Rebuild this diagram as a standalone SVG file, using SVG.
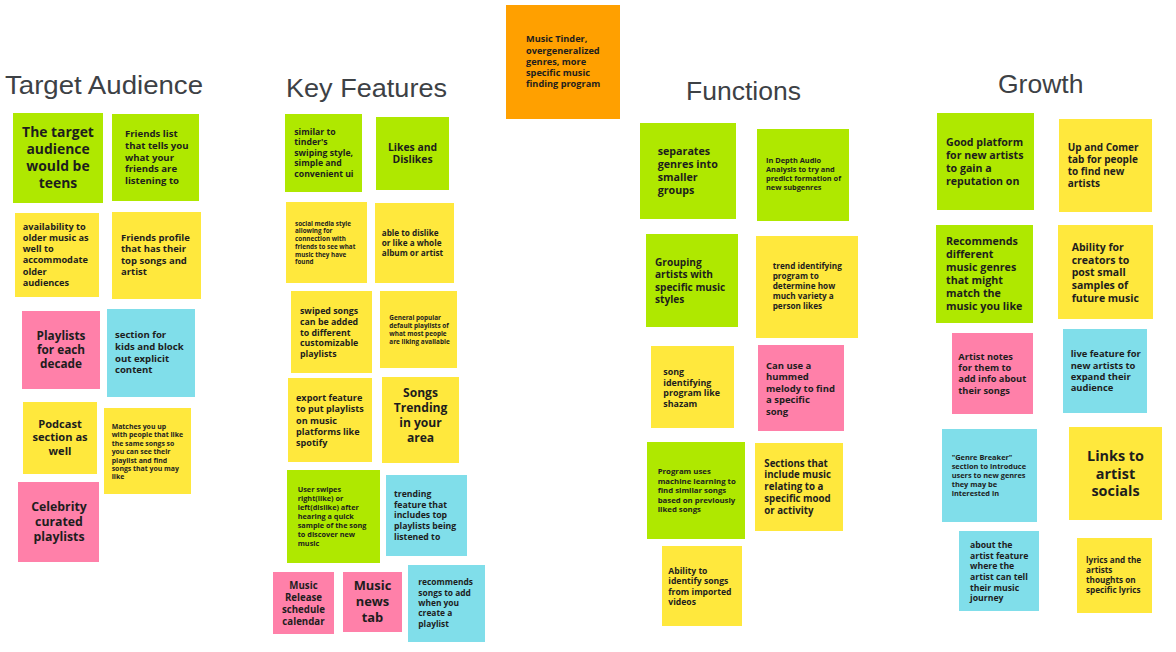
<svg xmlns="http://www.w3.org/2000/svg" width="1176" height="652" viewBox="0 0 1176 652">
<style>
.bg{fill:#ffffff}
.h{font-family:"Liberation Sans",Arial,sans-serif;font-size:26.5px;fill:#3d4145}
.n{font-family:"Open Sans","Noto Sans",sans-serif;font-weight:700;fill:#1d1d1d}
.m{text-anchor:middle}
.gr{fill:#afe800}
.ye{fill:#ffe83d}
.pk{fill:#ff80a9}
.cy{fill:#80deea}
.or{fill:#ffa000}
</style>
<rect class="bg" x="0" y="0" width="1176" height="652"/>

<g id="headings">
<text class="h" x="5" y="93.5" textLength="198" lengthAdjust="spacingAndGlyphs">Target Audience</text>
<text class="h" x="286" y="96.7" textLength="161" lengthAdjust="spacingAndGlyphs">Key Features</text>
<text class="h" x="686" y="100">Functions</text>
<text class="h" x="998" y="93.3">Growth</text>
</g>

<g id="connectors"/>

<g id="music-tinder">
<rect class="or" x="506" y="5" width="114" height="114"/>
<text class="n" font-size="9.2" y="42.4"><tspan x="526">Music Tinder,</tspan><tspan x="526" dy="11.2">overgeneralized</tspan><tspan x="526" dy="11.2">genres, more</tspan><tspan x="526" dy="11.2">specific music</tspan><tspan x="526" dy="11.2">finding program</tspan></text>
</g>

<!-- Target Audience -->
<g id="ta-teens">
<rect class="gr" x="13" y="113" width="90" height="90"/>
<text class="n m" font-size="13.9" y="137.2"><tspan x="58">The target</tspan><tspan x="58" dy="16.9">audience</tspan><tspan x="58" dy="16.9">would be</tspan><tspan x="58" dy="16.9">teens</tspan></text>
</g>
<g id="ta-friends-list">
<rect class="gr" x="112" y="114" width="87" height="87"/>
<text class="n" font-size="9.6" y="137.2"><tspan x="125">Friends list</tspan><tspan x="125" dy="11.7">that tells you</tspan><tspan x="125" dy="11.7">what your</tspan><tspan x="125" dy="11.7">friends are</tspan><tspan x="125" dy="11.7">listening to</tspan></text>
</g>
<g id="ta-older-music">
<rect class="ye" x="15" y="213" width="84" height="84"/>
<text class="n" font-size="9.2" y="229.8"><tspan x="22.7">availability to</tspan><tspan x="22.7" dy="11.2">older music as</tspan><tspan x="22.7" dy="11.2">well to</tspan><tspan x="22.7" dy="11.2">accommodate</tspan><tspan x="22.7" dy="11.2">older</tspan><tspan x="22.7" dy="11.2">audiences</tspan></text>
</g>
<g id="ta-friends-profile">
<rect class="ye" x="112" y="212" width="89" height="87"/>
<text class="n" font-size="9.5" y="240.9"><tspan x="121">Friends profile</tspan><tspan x="121" dy="11.5">that has their</tspan><tspan x="121" dy="11.5">top songs and</tspan><tspan x="121" dy="11.5">artist</tspan></text>
</g>
<g id="ta-decade">
<rect class="pk" x="22" y="311" width="78" height="78"/>
<text class="n m" font-size="11.8" y="339.6"><tspan x="61">Playlists</tspan><tspan x="61" dy="14.4">for each</tspan><tspan x="61" dy="14.4">decade</tspan></text>
</g>
<g id="ta-kids">
<rect class="cy" x="107" y="309" width="88" height="88"/>
<text class="n" font-size="9.6" y="338.2"><tspan x="115">section for</tspan><tspan x="115" dy="11.7">kids and block</tspan><tspan x="115" dy="11.7">out explicit</tspan><tspan x="115" dy="11.7">content</tspan></text>
</g>
<g id="ta-podcast">
<rect class="ye" x="23" y="402" width="74" height="72"/>
<text class="n m" font-size="11.1" y="427.6"><tspan x="60">Podcast</tspan><tspan x="60" dy="13.5">section as</tspan><tspan x="60" dy="13.5">well</tspan></text>
</g>
<g id="ta-matches">
<rect class="ye" x="104" y="408" width="87" height="86"/>
<text class="n" font-size="6.9" y="429"><tspan x="111.7">Matches you up</tspan><tspan x="111.7" dy="8.4">with people that like</tspan><tspan x="111.7" dy="8.4">the same songs so</tspan><tspan x="111.7" dy="8.4">you can see their</tspan><tspan x="111.7" dy="8.4">playlist and find</tspan><tspan x="111.7" dy="8.4">songs that you may</tspan><tspan x="111.7" dy="8.4">like</tspan></text>
</g>
<g id="ta-celebrity">
<rect class="pk" x="18" y="482" width="81" height="80"/>
<text class="n m" font-size="12.3" y="510.7"><tspan x="59">Celebrity</tspan><tspan x="59" dy="15">curated</tspan><tspan x="59" dy="15">playlists</tspan></text>
</g>

<!-- Key Features -->
<g id="kf-tinder-style">
<rect class="gr" x="285" y="114" width="77" height="78"/>
<text class="n" font-size="8.7" y="134.5"><tspan x="294.3">similar to</tspan><tspan x="294.3" dy="10.65">tinder's</tspan><tspan x="294.3" dy="10.65">swiping style,</tspan><tspan x="294.3" dy="10.65">simple and</tspan><tspan x="294.3" dy="10.65">convenient ui</tspan></text>
</g>
<g id="kf-likes">
<rect class="gr" x="376" y="117" width="73" height="73"/>
<text class="n m" font-size="10.4" y="150.7"><tspan x="412.5">Likes and</tspan><tspan x="412.5" dy="12.7">Dislikes</tspan></text>
</g>
<g id="kf-social">
<rect class="ye" x="286" y="202" width="81" height="81"/>
<text class="n" font-size="6.3" y="225.5"><tspan x="295">social media style</tspan><tspan x="295" dy="7.75">allowing for</tspan><tspan x="295" dy="7.75">connection with</tspan><tspan x="295" dy="7.75">friends to see what</tspan><tspan x="295" dy="7.75">music they have</tspan><tspan x="295" dy="7.75">found</tspan></text>
</g>
<g id="kf-album">
<rect class="ye" x="375" y="203" width="79" height="80"/>
<text class="n" font-size="8.2" y="236"><tspan x="381.7">able to dislike</tspan><tspan x="381.7" dy="10">or like a whole</tspan><tspan x="381.7" dy="10">album or artist</tspan></text>
</g>
<g id="kf-swiped">
<rect class="ye" x="291" y="291" width="81" height="82"/>
<text class="n" font-size="8.8" y="314"><tspan x="300">swiped songs</tspan><tspan x="300" dy="10.75">can be added</tspan><tspan x="300" dy="10.75">to different</tspan><tspan x="300" dy="10.75">customizable</tspan><tspan x="300" dy="10.75">playlists</tspan></text>
</g>
<g id="kf-general">
<rect class="ye" x="380" y="291" width="77" height="77"/>
<text class="n" font-size="6.4" y="320.4"><tspan x="389.3">General popular</tspan><tspan x="389.3" dy="7.8">default playlists of</tspan><tspan x="389.3" dy="7.8">what most people</tspan><tspan x="389.3" dy="7.8">are liking available</tspan></text>
</g>
<g id="kf-export">
<rect class="ye" x="288" y="378" width="84" height="84"/>
<text class="n" font-size="9.1" y="401.3"><tspan x="296">export feature</tspan><tspan x="296" dy="11.1">to put playlists</tspan><tspan x="296" dy="11.1">on music</tspan><tspan x="296" dy="11.1">platforms like</tspan><tspan x="296" dy="11.1">spotify</tspan></text>
</g>
<g id="kf-trending-area">
<rect class="ye" x="382" y="377" width="77" height="86"/>
<text class="n m" font-size="12.1" y="397.3"><tspan x="420.5">Songs</tspan><tspan x="420.5" dy="14.8">Trending</tspan><tspan x="420.5" dy="14.8">in your</tspan><tspan x="420.5" dy="14.8">area</tspan></text>
</g>
<g id="kf-user-swipes">
<rect class="gr" x="287" y="470" width="93" height="93"/>
<text class="n" font-size="7.3" y="492.4"><tspan x="297.7">User swipes</tspan><tspan x="297.7" dy="8.9">right(like) or</tspan><tspan x="297.7" dy="8.9">left(dislike) after</tspan><tspan x="297.7" dy="8.9">hearing a quick</tspan><tspan x="297.7" dy="8.9">sample of the song</tspan><tspan x="297.7" dy="8.9">to discover new</tspan><tspan x="297.7" dy="8.9">music</tspan></text>
</g>
<g id="kf-trending-feature">
<rect class="cy" x="386" y="475" width="81" height="81"/>
<text class="n" font-size="8.7" y="496.9"><tspan x="394">trending</tspan><tspan x="394" dy="10.7">feature that</tspan><tspan x="394" dy="10.7">includes top</tspan><tspan x="394" dy="10.7">playlists being</tspan><tspan x="394" dy="10.7">listened to</tspan></text>
</g>
<g id="kf-release">
<rect class="pk" x="273" y="572" width="61" height="62"/>
<text class="n m" font-size="9.7" y="589.2"><tspan x="303.5">Music</tspan><tspan x="303.5" dy="11.9">Release</tspan><tspan x="303.5" dy="11.9">schedule</tspan><tspan x="303.5" dy="11.9">calendar</tspan></text>
</g>
<g id="kf-news">
<rect class="pk" x="343" y="572" width="59" height="60"/>
<text class="n m" font-size="12.9" y="590.3"><tspan x="372.5">Music</tspan><tspan x="372.5" dy="15.7">news</tspan><tspan x="372.5" dy="15.7">tab</tspan></text>
</g>
<g id="kf-recommends">
<rect class="cy" x="408" y="565" width="77" height="77"/>
<text class="n" font-size="8.4" y="585.4"><tspan x="418.3">recommends</tspan><tspan x="418.3" dy="10.3">songs to add</tspan><tspan x="418.3" dy="10.3">when you</tspan><tspan x="418.3" dy="10.3">create a</tspan><tspan x="418.3" dy="10.3">playlist</tspan></text>
</g>

<!-- Functions -->
<g id="fn-separates">
<rect class="gr" x="640" y="123" width="96" height="96"/>
<text class="n" font-size="10.7" y="155.3"><tspan x="657.7">separates</tspan><tspan x="657.7" dy="13">genres into</tspan><tspan x="657.7" dy="13">smaller</tspan><tspan x="657.7" dy="13">groups</tspan></text>
</g>
<g id="fn-audio">
<rect class="gr" x="757" y="129" width="92" height="92"/>
<text class="n" font-size="7.4" y="163.2"><tspan x="766">In Depth Audio</tspan><tspan x="766" dy="9">Analysis to try and</tspan><tspan x="766" dy="9">predict formation of</tspan><tspan x="766" dy="9">new subgenres</tspan></text>
</g>
<g id="fn-grouping">
<rect class="gr" x="646" y="234" width="92" height="93"/>
<text class="n" font-size="10.1" y="266"><tspan x="655">Grouping</tspan><tspan x="655" dy="12.3">artists with</tspan><tspan x="655" dy="12.3">specific music</tspan><tspan x="655" dy="12.3">styles</tspan></text>
</g>
<g id="fn-trend">
<rect class="ye" x="756" y="236" width="102" height="102"/>
<text class="n" font-size="8.2" y="269.4"><tspan x="772.7">trend identifying</tspan><tspan x="772.7" dy="10">program to</tspan><tspan x="772.7" dy="10">determine how</tspan><tspan x="772.7" dy="10">much variety a</tspan><tspan x="772.7" dy="10">person likes</tspan></text>
</g>
<g id="fn-shazam">
<rect class="ye" x="651" y="346" width="83" height="82"/>
<text class="n" font-size="8.9" y="374.7"><tspan x="663.3">song</tspan><tspan x="663.3" dy="10.8">identifying</tspan><tspan x="663.3" dy="10.8">program like</tspan><tspan x="663.3" dy="10.8">shazam</tspan></text>
</g>
<g id="fn-hummed">
<rect class="pk" x="758" y="345" width="86" height="86"/>
<text class="n" font-size="9.5" y="368.9"><tspan x="766">Can use a</tspan><tspan x="766" dy="11.5">hummed</tspan><tspan x="766" dy="11.5">melody to find</tspan><tspan x="766" dy="11.5">a specific</tspan><tspan x="766" dy="11.5">song</tspan></text>
</g>
<g id="fn-ml">
<rect class="gr" x="647" y="442" width="98" height="97"/>
<text class="n" font-size="7.8" y="474.3"><tspan x="657.7">Program uses</tspan><tspan x="657.7" dy="9.5">machine learning to</tspan><tspan x="657.7" dy="9.5">find similar songs</tspan><tspan x="657.7" dy="9.5">based on previously</tspan><tspan x="657.7" dy="9.5">liked songs</tspan></text>
</g>
<g id="fn-mood">
<rect class="ye" x="755" y="443" width="88" height="88"/>
<text class="n" font-size="9.7" y="466.5"><tspan x="764.3">Sections that</tspan><tspan x="764.3" dy="11.85">include music</tspan><tspan x="764.3" dy="11.85">relating to a</tspan><tspan x="764.3" dy="11.85">specific mood</tspan><tspan x="764.3" dy="11.85">or activity</tspan></text>
</g>
<g id="fn-videos">
<rect class="ye" x="662" y="546" width="80" height="80"/>
<text class="n" font-size="8.6" y="573.5"><tspan x="668.3">Ability to</tspan><tspan x="668.3" dy="10.5">identify songs</tspan><tspan x="668.3" dy="10.5">from imported</tspan><tspan x="668.3" dy="10.5">videos</tspan></text>
</g>

<!-- Growth -->
<g id="gr-platform">
<rect class="gr" x="937" y="113" width="97" height="97"/>
<text class="n" font-size="10.6" y="145.8"><tspan x="946">Good platform</tspan><tspan x="946" dy="12.9">for new artists</tspan><tspan x="946" dy="12.9">to gain a</tspan><tspan x="946" dy="12.9">reputation on</tspan></text>
</g>
<g id="gr-upandcomer">
<rect class="ye" x="1059" y="119" width="93" height="93"/>
<text class="n" font-size="10" y="151"><tspan x="1067.7">Up and Comer</tspan><tspan x="1067.7" dy="12.1">tab for people</tspan><tspan x="1067.7" dy="12.1">to find new</tspan><tspan x="1067.7" dy="12.1">artists</tspan></text>
</g>
<g id="gr-recommends">
<rect class="gr" x="936" y="225" width="97" height="98"/>
<text class="n" font-size="10.7" y="245.3"><tspan x="946">Recommends</tspan><tspan x="946" dy="13">different</tspan><tspan x="946" dy="13">music genres</tspan><tspan x="946" dy="13">that might</tspan><tspan x="946" dy="13">match the</tspan><tspan x="946" dy="13">music you like</tspan></text>
</g>
<g id="gr-samples">
<rect class="ye" x="1058" y="225" width="95" height="94"/>
<text class="n" font-size="10.5" y="250.8"><tspan x="1071.7">Ability for</tspan><tspan x="1071.7" dy="12.75">creators to</tspan><tspan x="1071.7" dy="12.75">post small</tspan><tspan x="1071.7" dy="12.75">samples of</tspan><tspan x="1071.7" dy="12.75">future music</tspan></text>
</g>
<g id="gr-artist-notes">
<rect class="pk" x="952" y="333" width="81" height="81"/>
<text class="n" font-size="9.3" y="359.8"><tspan x="958.3">Artist notes</tspan><tspan x="958.3" dy="11.3">for them to</tspan><tspan x="958.3" dy="11.3">add info about</tspan><tspan x="958.3" dy="11.3">their songs</tspan></text>
</g>
<g id="gr-live">
<rect class="cy" x="1063" y="329" width="84" height="84"/>
<text class="n" font-size="9.4" y="357.1"><tspan x="1070.7">live feature for</tspan><tspan x="1070.7" dy="11.4">new artists to</tspan><tspan x="1070.7" dy="11.4">expand their</tspan><tspan x="1070.7" dy="11.4">audience</tspan></text>
</g>
<g id="gr-genre-breaker">
<rect class="cy" x="942" y="429" width="95" height="93"/>
<text class="n" font-size="7.4" y="460.2"><tspan x="951.7">"Genre Breaker"</tspan><tspan x="951.7" dy="9">section to introduce</tspan><tspan x="951.7" dy="9">users to new genres</tspan><tspan x="951.7" dy="9">they may be</tspan><tspan x="951.7" dy="9">interested in</tspan></text>
</g>
<g id="gr-socials">
<rect class="ye" x="1069" y="427" width="93" height="93"/>
<text class="n m" font-size="14.4" y="461.4"><tspan x="1115.5">Links to</tspan><tspan x="1115.5" dy="17.5">artist</tspan><tspan x="1115.5" dy="17.5">socials</tspan></text>
</g>
<g id="gr-about">
<rect class="cy" x="959" y="531" width="80" height="80"/>
<text class="n" font-size="8.7" y="547.9"><tspan x="970">about the</tspan><tspan x="970" dy="10.65">artist feature</tspan><tspan x="970" dy="10.65">where the</tspan><tspan x="970" dy="10.65">artist can tell</tspan><tspan x="970" dy="10.65">their music</tspan><tspan x="970" dy="10.65">journey</tspan></text>
</g>
<g id="gr-lyrics">
<rect class="ye" x="1077" y="538" width="75" height="75"/>
<text class="n" font-size="8.2" y="563.4"><tspan x="1086">lyrics and the</tspan><tspan x="1086" dy="10">artists</tspan><tspan x="1086" dy="10">thoughts on</tspan><tspan x="1086" dy="10">specific lyrics</tspan></text>
</g>
</svg>
